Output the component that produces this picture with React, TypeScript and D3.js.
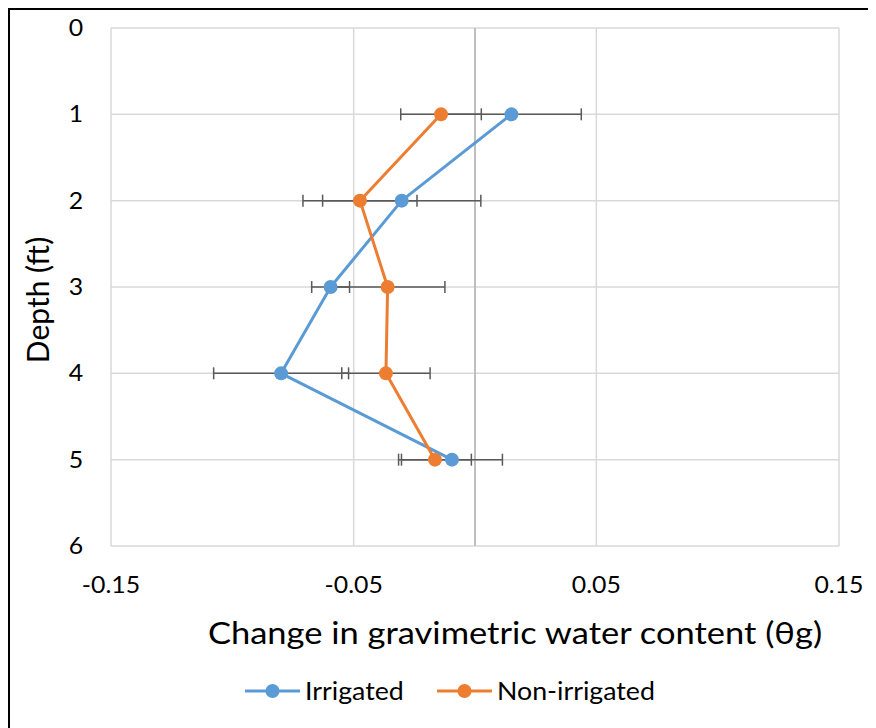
import { useEffect, useRef } from "react";
import * as d3 from "d3";

// depth (ft) for each point
const depths = [1, 2, 3, 4, 5];

// change in gravimetric water content
const irrigated = [0.015, -0.0302, -0.0595, -0.0799, -0.0095];
const irrigatedErr = [0.0288, 0.0326, 0.0078, 0.0278, 0.0208];

const nonIrrigated = [-0.014, -0.0474, -0.036, -0.0367, -0.0165];
const nonIrrigatedErr = [0.0166, 0.0235, 0.0236, 0.0182, 0.015];

const xTicks = [-0.15, -0.05, 0.05, 0.15];
const xTickLabels = ["-0.15", "-0.05", "0.05", "0.15"];
const yTicks = [0, 1, 2, 3, 4, 5, 6];

const seriesNames = ["Irrigated", "Non-irrigated"];
const colors = ["#5B9BD5", "#ED7D31"];

const FONT = "Lato, 'Noto Sans', sans-serif";

export default function App() {
  const ref = useRef<SVGSVGElement>(null);

  useEffect(() => {
    document.body.style.overflow = "hidden";
    const root = d3.select(ref.current);
    root.selectAll("*").remove();

    // work in page coordinates (body has 8px margin)
    const svg = root.append("g").attr("transform", "translate(-8,-8)");

    // outer frame: only top and left edges show
    svg.append("line")
      .attr("x1", 8).attr("x2", 900)
      .attr("y1", 9).attr("y2", 9)
      .attr("stroke", "#000").attr("stroke-width", 2);
    svg.append("line")
      .attr("x1", 9).attr("x2", 9)
      .attr("y1", 8).attr("y2", 900)
      .attr("stroke", "#000").attr("stroke-width", 2);

    const left = 111, right = 839, top = 28, bottom = 546;

    const x = d3.scaleLinear().domain([-0.15, 0.15]).range([left, right]);
    const y = d3.scaleLinear().domain([0, 6]).range([top, bottom]);

    // vertical grid
    svg.append("g")
      .selectAll("line")
      .data(xTicks)
      .join("line")
      .attr("x1", d => x(d)).attr("x2", d => x(d))
      .attr("y1", top).attr("y2", bottom)
      .attr("stroke", "#d9d9d9")
      .attr("stroke-width", 1.5);

    // horizontal grid
    svg.append("g")
      .selectAll("line")
      .data(yTicks)
      .join("line")
      .attr("x1", left).attr("x2", right)
      .attr("y1", d => y(d)).attr("y2", d => y(d))
      .attr("stroke", "#d9d9d9")
      .attr("stroke-width", 1.5);

    // value axis crossing at zero
    svg.append("line")
      .attr("x1", x(0)).attr("x2", x(0))
      .attr("y1", top).attr("y2", bottom)
      .attr("stroke", "#bfbfbf")
      .attr("stroke-width", 2);

    // y tick labels
    svg.append("g")
      .selectAll("text")
      .data(yTicks)
      .join("text")
      .attr("transform", d => `translate(76,${y(d)}) scale(1.08,1)`)
      .attr("dy", "0.35em")
      .attr("text-anchor", "middle")
      .style("font-family", FONT)
      .style("font-size", "23px")
      .attr("fill", "#000")
      .text(d => d);

    // x tick labels
    svg.append("g")
      .selectAll("text")
      .data(xTicks)
      .join("text")
      .attr("transform", d => `translate(${x(d)},585) scale(1.08,1)`)
      .attr("dy", "0.35em")
      .attr("text-anchor", "middle")
      .style("font-family", FONT)
      .style("font-size", "23px")
      .attr("fill", "#000")
      .text((d, i) => xTickLabels[i]);

    // axis titles
    svg.append("text")
      .attr("transform", `translate(38, 300) rotate(-90)`)
      .attr("dy", "0.35em")
      .attr("text-anchor", "middle")
      .style("font-family", FONT)
      .style("font-size", "30px")
      .text("Depth (ft)");

    svg.append("text")
      .attr("transform", `translate(515, 633) scale(1.15,1)`)
      .attr("dy", "0.35em")
      .attr("text-anchor", "middle")
      .style("font-family", FONT)
      .style("font-size", "30px")
      .text("Change in gravimetric water content (θg)");

    const series = [
      { vals: irrigated, errs: irrigatedErr },
      { vals: nonIrrigated, errs: nonIrrigatedErr },
    ];

    // error bars
    series.forEach(s => {
      const g = svg.append("g").attr("stroke", "#595959").attr("stroke-width", 1.5);
      depths.forEach((dep, i) => {
        const lo = x(s.vals[i] - s.errs[i]);
        const hi = x(s.vals[i] + s.errs[i]);
        const cy = y(dep);
        g.append("line").attr("x1", lo).attr("x2", hi).attr("y1", cy).attr("y2", cy);
        g.append("line").attr("x1", lo).attr("x2", lo).attr("y1", cy - 6).attr("y2", cy + 6);
        g.append("line").attr("x1", hi).attr("x2", hi).attr("y1", cy - 6).attr("y2", cy + 6);
      });
    });

    const line = d3.line<number>()
      .x(d => x(d))
      .y((d, i) => y(depths[i]));

    series.forEach((s, k) => {
      svg.append("path")
        .datum(s.vals)
        .attr("d", line)
        .attr("fill", "none")
        .attr("stroke", colors[k])
        .attr("stroke-width", 3)
        .attr("stroke-linejoin", "round");

      svg.append("g")
        .selectAll("circle")
        .data(s.vals)
        .join("circle")
        .attr("cx", d => x(d))
        .attr("cy", (d, i) => y(depths[i]))
        .attr("r", 7)
        .attr("fill", colors[k]);
    });

    // legend
    const legendX = [245, 437];
    const legendY = 691;
    seriesNames.forEach((name, k) => {
      const g = svg.append("g");
      g.append("line")
        .attr("x1", legendX[k]).attr("x2", legendX[k] + 55)
        .attr("y1", legendY).attr("y2", legendY)
        .attr("stroke", colors[k])
        .attr("stroke-width", 3);
      g.append("circle")
        .attr("cx", legendX[k] + 27.5)
        .attr("cy", legendY)
        .attr("r", 7)
        .attr("fill", colors[k]);
      g.append("text")
        .attr("transform", `translate(${legendX[k] + 60},${legendY}) scale(1.07,1)`)
        .attr("dy", "0.35em")
        .style("font-family", FONT)
        .style("font-size", "25px")
        .text(name);
    });
  }, []);

  return (
    <svg
      ref={ref}
      width={868}
      height={720}
      style={{ display: "block", overflow: "hidden" }}
    />
  );
}
